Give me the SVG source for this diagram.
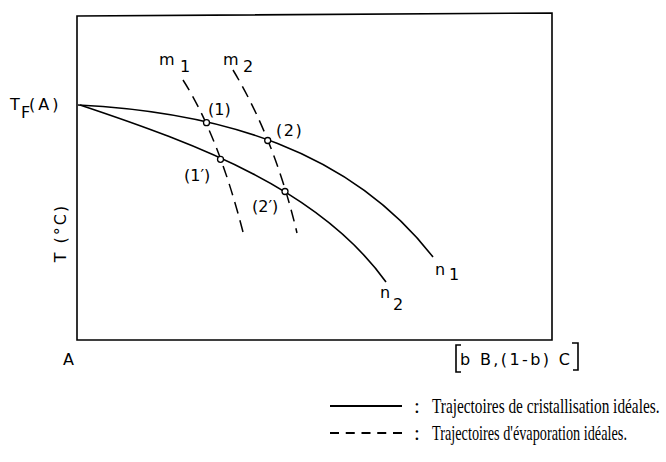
<svg xmlns="http://www.w3.org/2000/svg" width="666" height="462" viewBox="0 0 666 462">
<style>
.ln{fill:none;stroke:#000;stroke-width:1.6}
.dash{fill:none;stroke:#000;stroke-width:1.5;stroke-dasharray:12 7}
.pt{fill:#fff;stroke:#000;stroke-width:1.3}
.lb{font-family:"DejaVu Sans",sans-serif;font-size:16px;fill:#000}
.lg{font-family:"Liberation Serif",serif;font-size:21px;fill:#000}
</style>
<rect width="666" height="462" fill="#fff"/>
<g id="frame">
<path class="ln" d="M77,16 L552,13 L552,340 L77,340 Z"/>
</g>
<g id="connectors">
<path id="n1" class="ln" d="M78,105 C220,112 350,150 433,257"/>
<path id="n2" class="ln" d="M80,105 C200,145 320,190 386,282"/>
<path id="m1" class="dash" d="M183,80 Q218,135 243,232"/>
<path id="m2" class="dash" d="M233,70 Q275,140 297,233"/>
</g>
<g id="p1"><circle class="pt" cx="206.5" cy="122.7" r="3"/><text class="lb" x="208" y="115">(1)</text></g>
<g id="p2"><circle class="pt" cx="267.7" cy="140.5" r="3"/><text class="lb" x="276" y="136" letter-spacing="1.5">(2)</text></g>
<g id="p1b"><circle class="pt" cx="220.5" cy="159.3" r="3"/><text class="lb" x="184" y="181">(1′)</text></g>
<g id="p2b"><circle class="pt" cx="285" cy="191.5" r="3"/><text class="lb" x="252" y="212">(2′)</text></g>
<g id="labels">
<text class="lb" x="159" y="65" font-size="18">m</text><text class="lb" x="180" y="72">1</text>
<text class="lb" x="223" y="65" font-size="18">m</text><text class="lb" x="243" y="72">2</text>
<text class="lb" x="435" y="275" font-size="18">n</text><text class="lb" x="449" y="280">1</text>
<text class="lb" x="380" y="298" font-size="18">n</text><text class="lb" x="393" y="310">2</text>
<text class="lb" x="10" y="110" font-size="17">T</text><text class="lb" x="21" y="118" font-size="15">F</text><text class="lb" x="29" y="110" font-size="17" letter-spacing="3">(A)</text>
<text class="lb" transform="translate(66,233) rotate(-90)" text-anchor="middle" font-size="17" letter-spacing="2">T (°C)</text>
<text class="lb" x="63" y="365" font-size="17">A</text>
<path class="ln" d="M461,345 L456,345 L456,372 L461,372 M572,343 L578,343 L578,370 L573,370" stroke-width="1.3"/>
<text class="lb" x="460" y="365" font-size="17" textLength="110" lengthAdjust="spacing">b B,(1-b) C</text>
</g>
<g id="legend">
<line x1="330" y1="406" x2="402" y2="406" stroke="#000" stroke-width="2"/>
<line x1="330" y1="433" x2="402" y2="433" stroke="#000" stroke-width="2" stroke-dasharray="9 6.75"/>
<text class="lg" x="414" y="413">:</text>
<text class="lg" x="414" y="440">:</text>
<text class="lg" transform="translate(432,413) scale(0.73,1)">Trajectoires de cristallisation idéales.</text>
<text class="lg" transform="translate(432,440) scale(0.68,1)">Trajectoires d'évaporation idéales.</text>
</g>
</svg>
